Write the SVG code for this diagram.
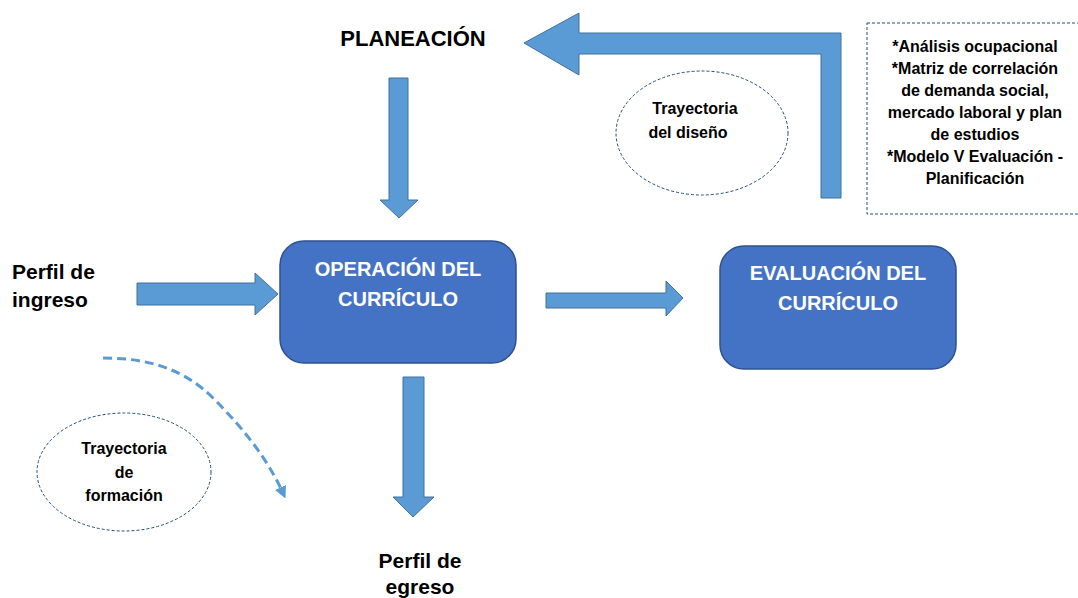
<svg xmlns="http://www.w3.org/2000/svg" width="1078" height="598" viewBox="0 0 1078 598">
<style>
.arr{fill:#5B9BD5;stroke:#41719C;stroke-width:1}
.box{fill:#4472C4;stroke:#2F528F;stroke-width:1.5}
.bt{font-family:"Liberation Sans",Arial,sans-serif;font-weight:bold;fill:#fff;font-size:20px;text-anchor:middle}
.lb{font-family:"Liberation Sans",Arial,sans-serif;font-weight:bold;fill:#000;font-size:21px}
.sm{font-family:"Liberation Sans",Arial,sans-serif;font-weight:bold;fill:#000;font-size:16px;text-anchor:middle}
.dash{fill:none;stroke:#1F4E79;stroke-width:1;stroke-dasharray:3,2}
</style>
<defs>
<marker id="tri" viewBox="0 0 10 10" refX="5" refY="5" markerWidth="4" markerHeight="4" orient="auto">
<path d="M0,0 L10,5 L0,10 Z" fill="#5B9BD5"/>
</marker>
</defs>
<g id="connectors">
<path class="arr" d="M524,43 L579,13 L579,33 L841,33 L841,198 L821,198 L821,54 L579,54 L579,75 Z"/>
<path class="arr" d="M389,78 L408,78 L408,200 L418,200 L399,218 L380,200 L389,200 Z"/>
<path class="arr" d="M137,283 L255,283 L255,273 L278,294 L255,315 L255,305 L137,305 Z"/>
<path class="arr" d="M546,293 L666,293 L666,281 L683,298 L666,316 L666,308 L546,308 Z"/>
<path class="arr" d="M403,377 L424,377 L424,497 L434,497 L413,517 L393,497 L403,497 Z"/>
<path d="M103,358 C150,358 185,370 213,398 C245,430 268,460 283,493" fill="none" stroke="#5B9BD5" stroke-width="3" stroke-dasharray="9,5" marker-end="url(#tri)"/>
</g>
<g id="planeacion"><text class="lb" x="413" y="46" text-anchor="middle" style="font-size:22px">PLANEACIÓN</text></g>
<g id="operacion">
<rect class="box" x="280" y="241" width="236" height="122" rx="24"/>
<text class="bt" x="398" y="276">OPERACIÓN DEL</text>
<text class="bt" x="398" y="306">CURRÍCULO</text>
</g>
<g id="evaluacion">
<rect class="box" x="720" y="246" width="236" height="123" rx="24"/>
<text class="bt" x="838" y="280">EVALUACIÓN DEL</text>
<text class="bt" x="838" y="310">CURRÍCULO</text>
</g>
<g id="ingreso">
<text class="lb" x="12" y="279">Perfil de</text>
<text class="lb" x="12" y="307">ingreso</text>
</g>
<g id="egreso">
<text class="lb" x="420" y="568" text-anchor="middle">Perfil de</text>
<text class="lb" x="420" y="594" text-anchor="middle">egreso</text>
</g>
<g id="tray-diseno">
<ellipse class="dash" cx="702" cy="133" rx="86" ry="62"/>
<text class="sm" x="695" y="114">Trayectoria</text>
<text class="sm" x="688" y="138">del diseño</text>
</g>
<g id="tray-formacion">
<ellipse class="dash" cx="124" cy="472" rx="87" ry="59"/>
<text class="sm" x="124" y="454">Trayectoria</text>
<text class="sm" x="124" y="478">de</text>
<text class="sm" x="124" y="501">formación</text>
</g>
<g id="notas">
<rect class="dash" x="867" y="23" width="215" height="191"/>
<text class="sm" x="975" y="52">*Análisis ocupacional</text>
<text class="sm" x="975" y="74">*Matriz de correlación</text>
<text class="sm" x="975" y="96">de demanda social,</text>
<text class="sm" x="975" y="118">mercado laboral y plan</text>
<text class="sm" x="975" y="140">de estudios</text>
<text class="sm" x="975" y="162">*Modelo V Evaluación -</text>
<text class="sm" x="975" y="184">Planificación</text>
</g>
</svg>
